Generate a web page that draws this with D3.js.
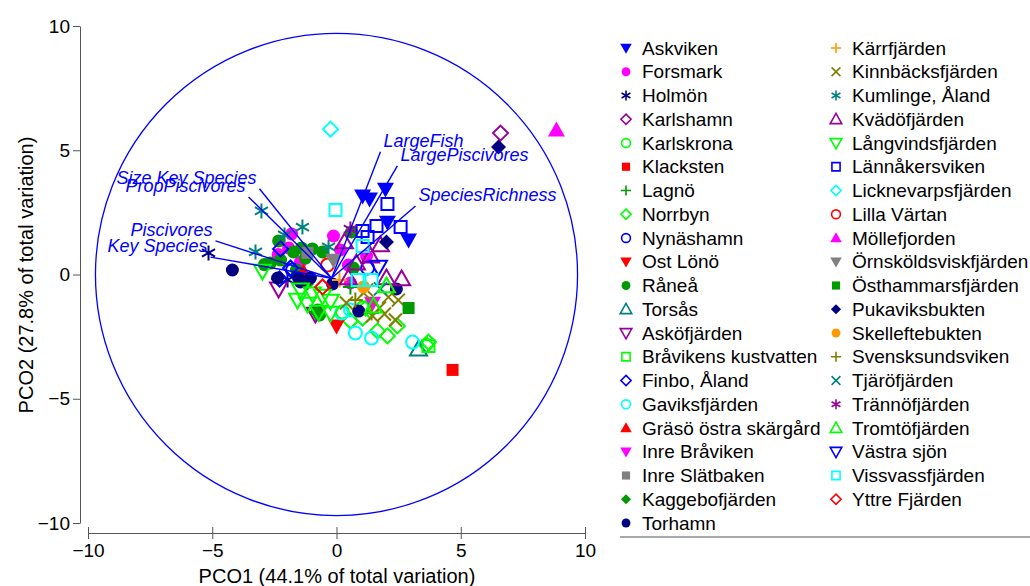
<!DOCTYPE html>
<meta charset="utf-8">
<script src="https://cdn.jsdelivr.net/npm/d3@7"></script>
<style>
  body { margin: 0; background: #fff; }
  text { font-family: "Liberation Sans", Arial, sans-serif; }
</style>
<div id="my_dataviz"></div>
<script>

// legend groups: name, symbol, colour, filled
var groupNames = ["Askviken","Forsmark","Holmön","Karlshamn","Karlskrona","Klacksten","Lagnö","Norrbyn",
  "Nynäshamn","Ost Lönö","Råneå","Torsås","Asköfjärden","Bråvikens kustvatten","Finbo, Åland","Gaviksfjärden",
  "Gräsö östra skärgård","Inre Bråviken","Inre Slätbaken","Kaggebofjärden","Torhamn",
  "Kärrfjärden","Kinnbäcksfjärden","Kumlinge, Åland","Kvädöfjärden","Långvindsfjärden","Lännåkersviken",
  "Licknevarpsfjärden","Lilla Värtan","Möllefjorden","Örnsköldsviskfjärden","Östhammarsfjärden","Pukaviksbukten",
  "Skelleftebukten","Svensksundsviken","Tjäröfjärden","Trännöfjärden","Tromtöfjärden","Västra sjön",
  "Vissvassfjärden","Yttre Fjärden"]
var groupShapes = ["triDown","circle","star","diamond","circle","square","plus","diamond",
  "circle","triDown","circle","triUp","triDown","square","diamond","circle",
  "triUp","triDown","square","diamond","circle",
  "plus","cross","star","triUp","triDown","square",
  "diamond","circle","triUp","triDown","square","diamond",
  "circle","plus","cross","star","triUp","triDown",
  "square","diamond"]
var groupColors = ["#0000ff","#ff00ff","#000080","#990099","#00ff00","#ff0000","#009900","#00ff00",
  "#0000ff","#ff0000","#009900","#008080","#990099","#00ff00","#0000ff","#00ffff",
  "#ff0000","#ff00ff","#808080","#009900","#000080",
  "#ff9900","#808000","#008080","#990099","#00ff00","#0000ff",
  "#00ffff","#ff0000","#ff00ff","#808080","#009900","#000080",
  "#ff9900","#808000","#008080","#990099","#00ff00","#0000ff",
  "#00ffff","#ff0000"]
var groupFilled = [1,1,0,0,0,1,0,0, 0,1,1,0,0,0,0,0, 1,1,1,1,1,
  0,0,0,0,0,0, 0,0,1,1,1,1, 1,0,0,0,0,0, 0,0]

// samples: [site, PCO1, PCO2]
var samples = [
  ["Karlskrona",1.05,-1.35],["Karlskrona",0.24,-1.51],
  ["Gaviksfjärden",0.20,-1.55],["Gaviksfjärden",0.76,-2.35],["Gaviksfjärden",1.41,-2.56],["Gaviksfjärden",3.06,-2.72],["Gaviksfjärden",0.56,-1.43],
  ["Norrbyn",0.56,-1.87],["Norrbyn",1.05,-1.75],["Norrbyn",1.65,-2.27],["Norrbyn",2.05,-2.47],["Norrbyn",2.45,-2.07],["Norrbyn",3.62,-2.84],["Norrbyn",3.70,-2.72],["Norrbyn",1.17,-1.35],
  ["Bråvikens kustvatten",3.70,-2.88],
  ["Torsås",3.30,-3.00],
  ["Klacksten",4.67,-3.84],
  ["Ost Lönö",0.00,-2.07],
  ["Gräsö östra skärgård",-1.33,0.10],
  ["Holmön",-5.15,0.87],["Holmön",-1.97,-0.22],["Holmön",-1.57,0.10],["Holmön",-1.25,-0.30],
  ["Finbo, Åland",-2.29,-0.18],["Finbo, Åland",-2.25,1.03],["Finbo, Åland",-1.85,0.26],
  ["Kumlinge, Åland",-3.02,2.56],["Kumlinge, Åland",-1.37,1.91],["Kumlinge, Åland",-3.26,0.91],["Kumlinge, Åland",-2.09,1.59],["Kumlinge, Åland",-0.32,1.11],
  ["Råneå",-2.33,1.35],["Råneå",-2.66,0.46],["Råneå",-2.25,0.58],["Råneå",-1.73,0.91],["Råneå",-0.97,1.03],["Råneå",-0.56,0.91],
  ["Råneå",0.60,1.71],["Råneå",0.68,0.26],["Råneå",-0.76,-1.43],["Råneå",-0.68,-1.63],["Råneå",-1.61,0.18],["Råneå",-1.41,1.07],
  ["Råneå",-1.25,0.66],["Råneå",-2.90,0.40],
  ["Forsmark",-1.81,1.63],["Forsmark",-1.93,1.07],["Forsmark",-0.12,1.55],["Forsmark",0.16,0.99],["Forsmark",1.21,0.74],
  ["Forsmark",0.48,0.38],["Forsmark",-1.45,0.50],["Forsmark",0.56,-0.34],["Forsmark",-2.35,0.80],
  ["Inre Slätbaken",-1.17,0.87],
  ["Örnsköldsviskfjärden",-0.12,0.58],
  ["Kaggebofjärden",-0.80,-1.51],["Kaggebofjärden",-1.21,-0.38],
  ["Torhamn",-4.19,0.18],["Torhamn",2.41,-0.58],["Torhamn",-0.16,-0.38],["Torhamn",-2.37,-0.14],["Torhamn",0.89,-1.47],
  ["Torhamn",-1.53,-0.14],["Torhamn",-1.45,-0.30],["Torhamn",-1.05,-0.14],
  ["Nynäshamn",1.25,0.26],["Nynäshamn",-1.77,0.18],
  ["Asköfjärden",-2.33,-0.58],["Asköfjärden",-0.85,-1.59],
  ["Långvindsfjärden",-2.98,0.14],["Långvindsfjärden",-1.45,-0.62],["Långvindsfjärden",-1.57,-1.03],["Långvindsfjärden",-0.97,-0.78],
  ["Långvindsfjärden",-0.56,-0.87],["Långvindsfjärden",-0.24,-1.07],["Långvindsfjärden",-0.24,-1.55],["Långvindsfjärden",-1.17,-1.19],["Långvindsfjärden",-0.72,-1.51],
  ["Kinnbäcksfjärden",0.40,-1.15],["Kinnbäcksfjärden",1.09,-0.74],["Kinnbäcksfjärden",2.09,-0.91],["Kinnbäcksfjärden",2.49,-1.03],
  ["Kinnbäcksfjärden",1.73,-1.35],["Kinnbäcksfjärden",1.93,-1.59],["Kinnbäcksfjärden",2.37,-1.83],["Kinnbäcksfjärden",1.45,-1.67],["Kinnbäcksfjärden",1.21,-0.62],
  ["Svensksundsviken",1.41,-1.55],["Svensksundsviken",0.76,-1.03],
  ["Inre Bråviken",1.45,-1.15],
  ["Östhammarsfjärden",2.90,-1.35],
  ["Tromtöfjärden",2.01,-0.46],["Tromtöfjärden",1.49,-1.27],
  ["Tjäröfjärden",1.77,-0.58],
  ["Skelleftebukten",1.09,-0.50],
  ["Lagnö",0.56,-0.50],
  ["Kärrfjärden",0.12,-0.22],
  ["Kvädöfjärden",1.77,1.19],["Kvädöfjärden",1.37,0.74],["Kvädöfjärden",2.01,-0.14],["Kvädöfjärden",2.62,-0.18],
  ["Kvädöfjärden",0.48,-0.14],["Kvädöfjärden",0.32,1.31],["Kvädöfjärden",0.80,0.46],
  ["Västra sjön",1.69,0.30],
  ["Vissvassfjärden",-0.04,2.60],["Vissvassfjärden",1.05,1.15],["Vissvassfjärden",0.85,-0.22],["Vissvassfjärden",1.41,-0.22],
  ["Lännåkersviken",2.05,2.84],["Lännåkersviken",1.61,1.95],["Lännåkersviken",2.58,1.91],["Lännåkersviken",1.05,1.75],["Lännåkersviken",1.25,1.51],
  ["Trännöfjärden",0.56,1.83],
  ["Askviken",1.05,3.16],["Askviken",1.33,3.04],["Askviken",1.97,3.44],["Askviken",2.05,2.11],["Askviken",2.90,1.39],
  ["Pukaviksbukten",6.52,5.13],["Pukaviksbukten",2.01,1.31],
  ["Karlshamn",6.60,5.69],
  ["Möllefjorden",8.85,5.81],
  ["Licknevarpsfjärden",-0.24,5.85],
  ["Lilla Värtan",-0.36,0.38],
  ["Yttre Fjärden",-0.56,-0.50]
]

// vector overlay
var vectorNames = ["Key Species","Piscivores","Size Key Species","PropPiscivores","LargeFish","LargePiscivores","SpeciesRichness"]
var vectorX = [-5.07,-4.87,-3.10,-3.54,1.77,2.45,3.18]
var vectorY = [0.70,1.35,3.45,3.12,4.94,4.37,2.76]
var vectorOrigin = [-0.2,-0.15]
var circleRadius = 9.7

var tickValues = [-10,-5,0,5,10]

var svg = d3.select("#my_dataviz").append("svg")
    .attr("width", 1030).attr("height", 586)

var x = d3.scaleLinear().domain([-10, 10]).range([88, 585])
var y = d3.scaleLinear().domain([-10, 10]).range([523, 26])

// symbol paths
function shapePath(shape, r) {
  if (shape == "circle") return "M" + (-r) + ",0A" + r + "," + r + " 0 1,0 " + r + ",0A" + r + "," + r + " 0 1,0 " + (-r) + ",0Z"
  if (shape == "square") return "M" + (-r) + "," + (-r) + "H" + r + "V" + r + "H" + (-r) + "Z"
  if (shape == "diamond") return "M0," + (-r) + "L" + r + ",0L0," + r + "L" + (-r) + ",0Z"
  if (shape == "triUp") return "M0," + (-r) + "L" + r + "," + (r * 0.75) + "L" + (-r) + "," + (r * 0.75) + "Z"
  if (shape == "triDown") return "M0," + r + "L" + r + "," + (-r * 0.75) + "L" + (-r) + "," + (-r * 0.75) + "Z"
  if (shape == "plus") return "M" + (-r) + ",0H" + r + "M0," + (-r) + "V" + r
  if (shape == "cross") return "M" + (-r) + "," + (-r) + "L" + r + "," + r + "M" + r + "," + (-r) + "L" + (-r) + "," + r
  // asterisk
  var c = r * 0.87, s = r * 0.5
  return "M0," + (-r) + "V" + r + "M" + (-c) + "," + (-s) + "L" + c + "," + s + "M" + c + "," + (-s) + "L" + (-c) + "," + s
}
var plotSize = {circle: 6.5, square: 6, diamond: 7.5, triUp: 8.5, triDown: 8.5, plus: 7.5, cross: 6.5, star: 7.5}

function styleSymbol(sel, gi, sw) {
  var filled = groupFilled[gi] && ["plus","cross","star"].indexOf(groupShapes[gi]) < 0
  sel.attr("fill", filled ? groupColors[gi] : "none")
     .attr("stroke", filled ? "none" : groupColors[gi])
     .attr("stroke-width", sw)
}

// correlation circle
svg.append("circle")
  .attr("cx", x(0)).attr("cy", y(0))
  .attr("r", x(circleRadius) - x(0))
  .attr("fill", "none").attr("stroke", "#0000ff").attr("stroke-width", 1.3)

// points, in legend order
var order = samples.slice().sort(function(a, b) { return groupNames.indexOf(a[0]) - groupNames.indexOf(b[0]) })
order.forEach(function(d) {
  var gi = groupNames.indexOf(d[0])
  svg.append("path")
    .attr("d", shapePath(groupShapes[gi], plotSize[groupShapes[gi]]))
    .attr("transform", "translate(" + x(d[1]) + "," + y(d[2]) + ")")
    .call(styleSymbol, gi, 2)
})

// vectors
vectorNames.forEach(function(name, i) {
  svg.append("line")
    .attr("x1", x(vectorOrigin[0])).attr("y1", y(vectorOrigin[1]))
    .attr("x2", x(vectorX[i])).attr("y2", y(vectorY[i]))
    .attr("stroke", "#0000ff").attr("stroke-width", 1.4)
  var right = vectorX[i] > 0
  svg.append("text")
    .attr("x", x(vectorX[i]) + (right ? 3 : -3))
    .attr("y", y(vectorY[i]) - 5)
    .attr("text-anchor", right ? "start" : "end")
    .style("font-size", "18px").style("font-style", "italic")
    .attr("fill", "#0000ff")
    .text(name)
})

// Y axis
var yAxis = svg.append("g").attr("transform", "translate(80,0)")
  .call(d3.axisLeft(y).tickValues(tickValues).tickSize(7).tickSizeOuter(0).tickPadding(3))
yAxis.select(".domain").attr("stroke", "#555")
yAxis.selectAll(".tick line").attr("stroke", "#555")
yAxis.selectAll(".tick text").style("font-size", "19px").attr("fill", "#000")

// X axis, ticks cross the line
var xAxis = svg.append("g").attr("transform", "translate(0,533)")
  .call(d3.axisBottom(x).tickValues(tickValues).tickSize(6).tickSizeOuter(0).tickPadding(5))
xAxis.select(".domain").attr("stroke", "#555")
xAxis.selectAll(".tick line").attr("y1", -6).attr("stroke", "#555")
xAxis.selectAll(".tick text").style("font-size", "19px").attr("fill", "#000")

// axis titles
svg.append("text")
  .attr("x", 337).attr("y", 583)
  .attr("text-anchor", "middle").style("font-size", "20px")
  .text("PCO1 (44.1% of total variation)")
svg.append("text")
  .attr("transform", "translate(33,275) rotate(-90)")
  .attr("text-anchor", "middle").style("font-size", "20px")
  .text("PCO2 (27.8% of total variation)")

// legend
var legend = svg.append("g")
groupNames.forEach(function(name, gi) {
  var col = gi < 21 ? 0 : 1
  var row = gi < 21 ? gi : gi - 21
  var lx = col == 0 ? 626 : 836
  var ly = 48 + row * 23.75
  legend.append("path")
    .attr("d", shapePath(groupShapes[gi], plotSize[groupShapes[gi]] * 0.68))
    .attr("transform", "translate(" + lx + "," + ly + ")")
    .call(styleSymbol, gi, 1.6)
  legend.append("text")
    .attr("x", lx + 16).attr("y", ly).attr("dy", "0.35em")
    .style("font-size", "19px")
    .text(name)
})
legend.append("line")
  .attr("x1", 620).attr("x2", 1030).attr("y1", 537).attr("y2", 537)
  .attr("stroke", "#555").attr("stroke-width", 1.2)

</script>
